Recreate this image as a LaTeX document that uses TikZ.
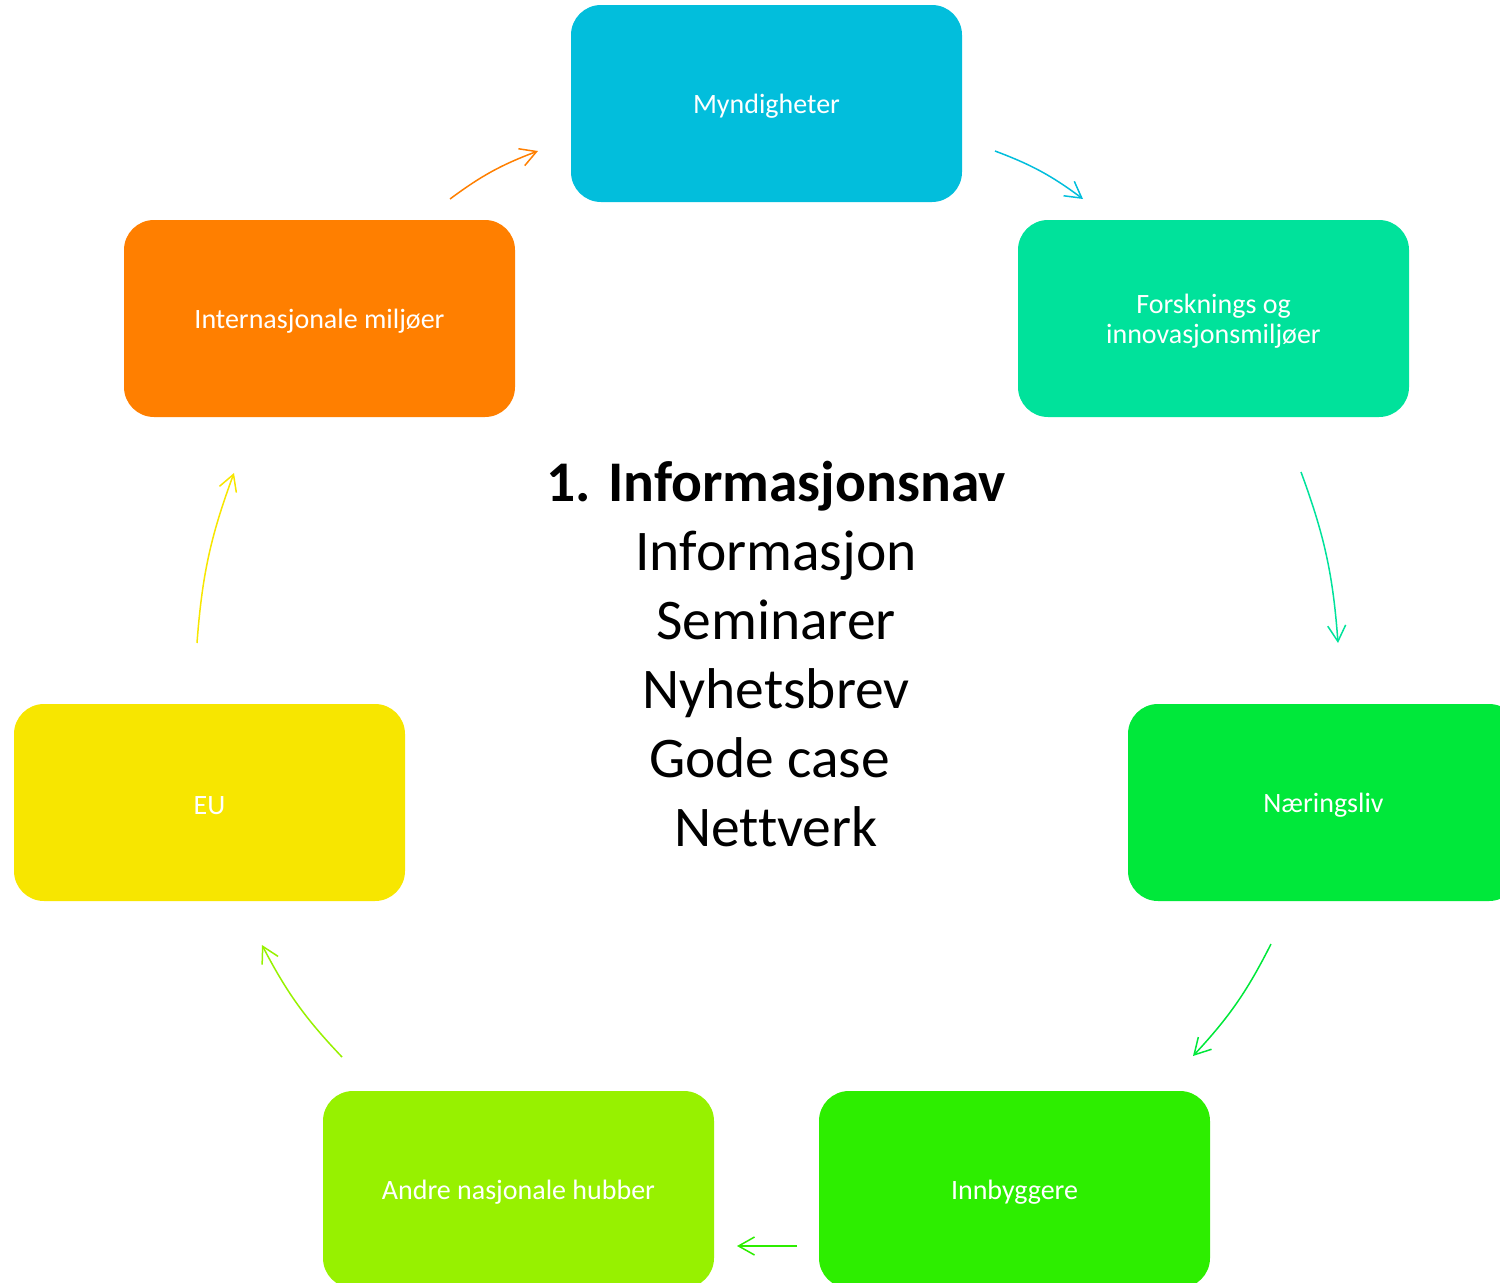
\documentclass[tikz,border=0pt]{standalone}
\usepackage{fontspec}
\setmainfont[Ligatures={NoCommon}]{Carlito}
\usetikzlibrary{arrows.meta}
\definecolor{cMyn}{RGB}{2,190,220}
\definecolor{cFor}{RGB}{0,226,155}
\definecolor{cNar}{RGB}{0,232,58}
\definecolor{cInn}{RGB}{45,238,0}
\definecolor{cAnd}{RGB}{151,241,0}
\definecolor{cEU}{RGB}{247,230,0}
\definecolor{cInt}{RGB}{255,127,0}
\newcommand{\lowtxt}[1]{\raisebox{-3pt}[\height][\depth]{#1}}
\begin{document}
\begin{tikzpicture}[x=1pt,y=-1pt,
  box/.style={rounded corners=30pt, minimum width=391pt, minimum height=197pt,
    inner sep=0pt, text=white, font=\fontsize{28}{30}\selectfont, align=center},
  conn/.style={line width=1.5pt, -{Straight Barb[length=16pt,width=18pt]}, bend left=8}]
\useasboundingbox (0,0) rectangle (1500,1283);
\node[box, fill=cMyn] (myn) at (766.5,103.5) {\lowtxt{Myndigheter}};
\node[box, fill=cFor] (for) at (1213.5,318.5) {\lowtxt{Forsknings og}\\\lowtxt{innovasjonsmiljøer}};
\node[box, fill=cNar] (nar) at (1323.5,802.5) {\lowtxt{Næringsliv}};
\node[box, fill=cInn] (inn) at (1014.5,1189.5) {\lowtxt{Innbyggere}};
\node[box, fill=cAnd] (and) at (518.5,1189.5) {\lowtxt{Andre nasjonale hubber}};
\node[box, fill=cEU] (eu) at (209.5,802.5) {\lowtxt{EU}};
\node[box, fill=cInt] (int) at (319.5,318.5) {\lowtxt{Internasjonale miljøer}};
\node[align=center, font=\fontsize{57.5}{69}\selectfont] (hub) at (776,654)
  {\textbf{1. Informasjonsnav}\\Informasjon\\Seminarer\\Nyhetsbrev\\\hbox{Gode case\kern13pt}\\Nettverk};
\coordinate (a1s) at (450,199); \coordinate (a1e) at (538,151);
\coordinate (a2s) at (995,151); \coordinate (a2e) at (1083,199);
\coordinate (a3s) at (1301,472); \coordinate (a3e) at (1338,643);
\coordinate (a4s) at (1271,944); \coordinate (a4e) at (1193,1056);
\coordinate (a5s) at (797,1246); \coordinate (a5e) at (737,1246);
\coordinate (a6s) at (342,1057); \coordinate (a6e) at (262,945);
\coordinate (a7s) at (197,643); \coordinate (a7e) at (234,473);
\draw[conn, cInt] (a1s) to (a1e);
\draw[conn, cMyn] (a2s) to (a2e);
\draw[conn, cFor] (a3s) to (a3e);
\draw[conn, cNar] (a4s) to (a4e);
\draw[conn, cInn, bend left=0] (a5s) to (a5e);
\draw[conn, cAnd] (a6s) to (a6e);
\draw[conn, cEU] (a7s) to (a7e);
\end{tikzpicture}
\end{document}
